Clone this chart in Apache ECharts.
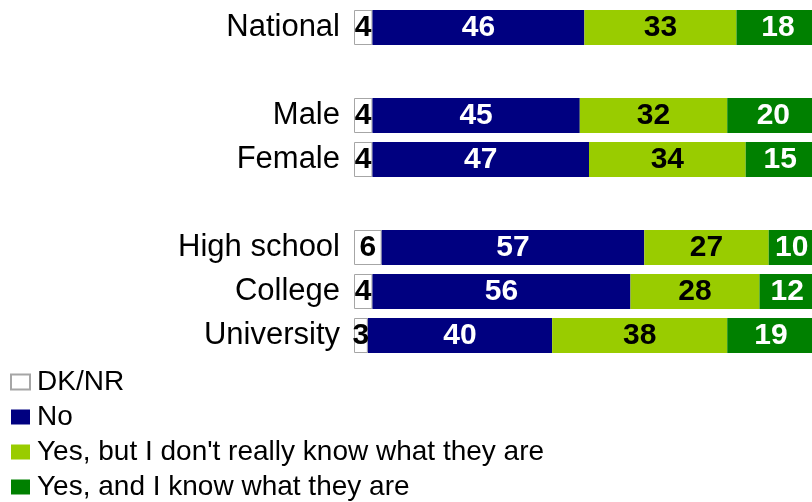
<!DOCTYPE html>
<html>
<head>
<meta charset="utf-8">
<script src="https://cdn.jsdelivr.net/npm/echarts@6/dist/echarts.min.js"></script>
<style>
html,body{margin:0;padding:0;background:#fff;}
#chart{width:812px;height:502px;}
</style>
</head>
<body>
<div id="chart"></div>
<script>
var categories = ['National', ' ', 'Male', 'Female', '  ', 'High school', 'College', 'University'];
var seriesNames = ['DK/NR', 'No', "Yes, but I don't really know what they are", 'Yes, and I know what they are'];
var dknr    = [4, null, 4, 4, null, 6, 4, 3];
var no      = [46, null, 45, 47, null, 57, 56, 40];
var yesBut  = [33, null, 32, 34, null, 27, 28, 38];
var yesKnow = [18, null, 20, 15, null, 10, 12, 19];

var FONT = '"Liberation Sans", Arial, sans-serif';
var colors = ['#ffffff', '#000080', '#99cc00', '#008000'];
var labelColors = ['#000000', '#ffffff', '#000000', '#ffffff'];
var values = [dknr, no, yesBut, yesKnow];

var series = values.map(function (vals, i) {
  return {
    name: seriesNames[i],
    type: 'bar',
    stack: 'total',
    barWidth: 35,
    clip: false,
    data: vals,
    itemStyle: {
      color: colors[i],
      borderColor: i === 0 ? '#a6a6a6' : colors[i],
      borderWidth: i === 0 ? 1 : 0
    },
    label: {
      show: true,
      position: 'inside',
      color: labelColors[i],
      fontFamily: FONT,
      fontWeight: 'bold',
      fontSize: 30
    },
    emphasis: { disabled: true }
  };
});

var chart = echarts.init(document.getElementById('chart'));
chart.setOption({
  animation: false,
  backgroundColor: '#ffffff',
  grid: { left: 354, width: 470, top: 5.5, height: 352, containLabel: false, outerBoundsMode: 'none' },
  xAxis: {
    type: 'value', min: 0, max: 102,
    show: false
  },
  yAxis: {
    type: 'category',
    data: categories,
    inverse: true,
    axisLine: { show: false },
    axisTick: { show: false },
    splitLine: { show: false },
    axisLabel: {
      color: '#000000',
      fontFamily: FONT,
      fontSize: 31,
      margin: 14
    }
  },
  legend: {
    orient: 'vertical',
    left: 10,
    top: 368,
    height: 200,
    padding: 0,
    itemWidth: 19,
    itemHeight: 15,
    itemGap: 7,
    icon: 'rect',
    selectedMode: false,
    data: seriesNames,
    textStyle: {
      color: '#000000',
      fontFamily: FONT,
      fontSize: 28,
      lineHeight: 28,
      padding: [0, 0, 0, 2]
    }
  },
  series: series
});
</script>
</body>
</html>
